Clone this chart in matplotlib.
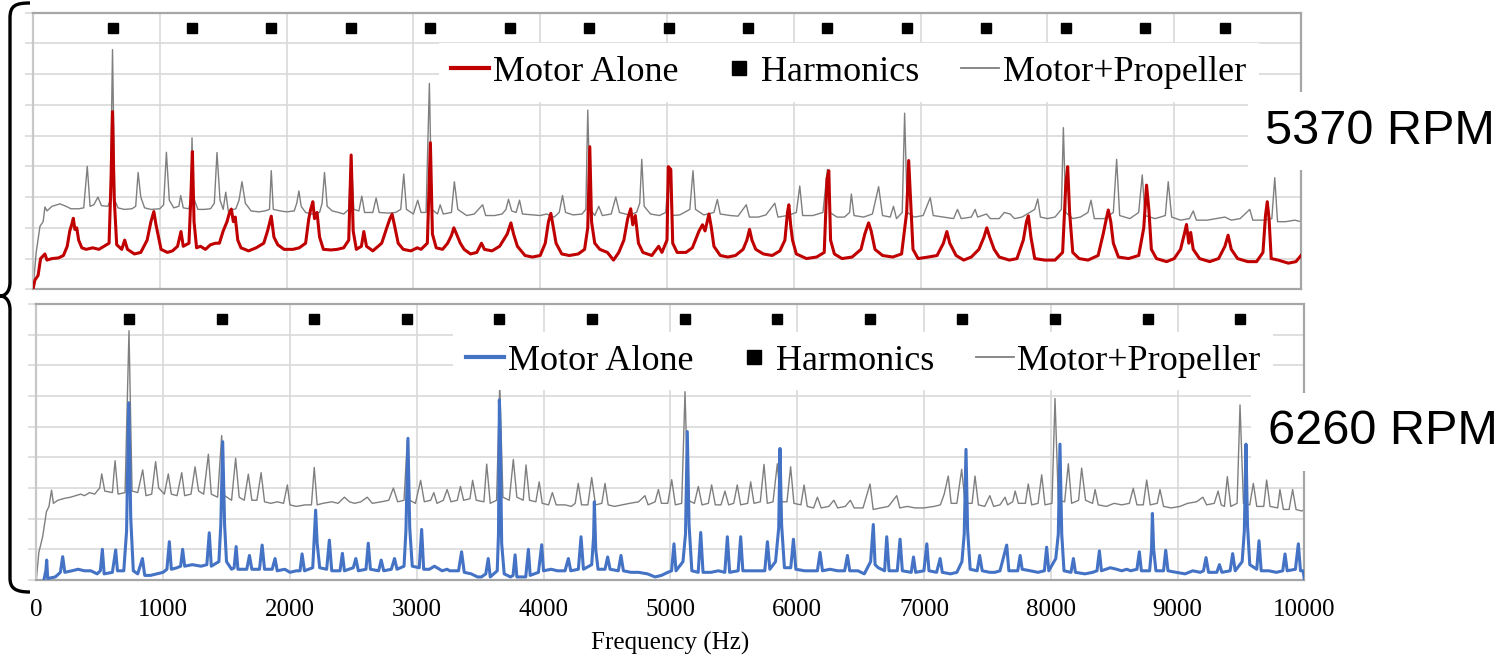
import matplotlib
matplotlib.use("Agg")
import matplotlib.pyplot as plt
from matplotlib.lines import Line2D
from matplotlib.path import Path
from matplotlib.patches import PathPatch
from matplotlib.font_manager import FontProperties

# ---------------- data ----------------
freq_ticks = [0, 1000, 2000, 3000, 4000, 5000, 6000, 7000, 8000, 9000, 10000]

harmonics_5370 = [627, 1253, 1880, 2506, 3133, 3759, 4386, 5012, 5639, 6265,
                  6892, 7518, 8145, 8771, 9398]
harmonics_6260 = [730, 1461, 2191, 2921, 3652, 4382, 5112, 5842, 6573, 7303,
                  8033, 8764, 9494]

# Motor alone, 5370 RPM  (frequency Hz, level)
motor_5370 = [
 (0,0.0),(15,0.3),(40,0.45),(60,1.0),(94,1.15),(110,0.95),(150,1.0),(200,1.02),(240,1.1),
 (270,1.4),(290,1.9),(305,2.1),(318,2.31),(330,1.95),(345,2.0),(360,1.6),(385,1.35),(420,1.3),
 (470,1.35),(520,1.3),(560,1.4),(600,1.5),(615,3.5),(627,5.78),(640,3.0),(660,1.45),(700,1.3),
 (723,1.6),(745,1.3),(800,1.15),(850,1.2),(900,1.6),(930,2.2),(953,2.53),(970,2.1),(990,1.7),
 (1010,1.3),(1060,1.2),(1100,1.25),(1140,1.4),(1167,1.88),(1185,1.4),(1230,1.5),(1245,3.0),
 (1257,4.48),(1270,2.2),(1290,1.35),(1320,1.4),(1360,1.3),(1400,1.45),(1440,1.5),(1470,1.5),
 (1500,1.9),(1530,2.2),(1550,2.5),(1564,2.61),(1580,2.2),(1595,2.35),(1615,1.6),(1640,1.35),
 (1700,1.25),(1760,1.35),(1820,1.5),(1850,1.9),(1879,2.38),(1900,1.7),(1930,1.45),(1980,1.3),
 (2050,1.3),(2100,1.35),(2150,1.5),(2175,2.3),(2190,2.6),(2207,2.85),(2220,2.3),(2240,2.5),
 (2260,1.7),(2290,1.3),(2350,1.28),(2400,1.3),(2450,1.35),(2490,1.6),(2509,4.37),(2525,1.9),
 (2550,1.3),(2590,1.4),(2609,1.88),(2630,1.4),(2680,1.25),(2750,1.5),(2790,2.0),(2815,2.3),
 (2832,2.44),(2850,2.1),(2880,1.5),(2920,1.3),(2980,1.25),(3030,1.35),(3060,1.3),(3110,1.5),
 (3134,4.77),(3150,1.8),(3180,1.35),(3230,1.3),(3270,1.5),(3300,1.75),(3319,2.0),(3340,1.8),
 (3370,1.5),(3400,1.3),(3450,1.15),(3500,1.2),(3537,1.5),(3560,1.3),(3620,1.25),(3680,1.4),
 (3740,1.8),(3769,2.16),(3790,1.8),(3820,1.4),(3880,1.1),(3938,1.05),(4000,1.1),(4040,1.5),
 (4065,2.2),(4084,2.47),(4100,2.1),(4125,1.5),(4170,1.15),(4230,1.1),(4300,1.15),(4350,1.3),
 (4375,2.0),(4391,4.64),(4405,2.2),(4430,1.5),(4470,1.3),(4530,1.2),(4578,0.95),(4620,1.2),
 (4660,1.6),(4690,2.3),(4714,2.62),(4730,2.1),(4750,2.4),(4775,1.5),(4810,1.2),(4880,1.1),
 (4934,1.4),(4960,1.2),(5000,1.6),(5010,3.99),(5030,3.9),(5045,1.5),(5080,1.2),(5150,1.2),
 (5200,1.35),(5253,1.9),(5280,2.1),(5300,1.9),(5331,2.45),(5350,2.0),(5370,1.4),(5420,1.1),
 (5480,1.05),(5540,1.1),(5600,1.3),(5630,1.6),(5651,1.95),(5670,1.6),(5700,1.3),(5760,1.15),
 (5830,1.1),(5890,1.25),(5930,1.6),(5950,2.5),(5961,2.75),(5975,2.1),(5990,1.6),(6020,1.15),
 (6100,1.0),(6180,1.05),(6240,1.2),(6262,3.6),(6276,3.86),(6290,1.6),(6320,1.15),(6380,1.0),
 (6460,1.05),(6530,1.3),(6560,1.8),(6590,2.16),(6610,1.9),(6640,1.3),(6700,1.1),(6780,1.05),
 (6850,1.15),(6890,2.5),(6906,4.19),(6920,3.0),(6940,1.3),(6980,1.0),(7060,1.05),(7130,1.1),
 (7180,1.5),(7207,1.88),(7230,1.5),(7280,1.1),(7340,0.95),(7400,1.05),(7460,1.3),(7500,1.7),
 (7522,2.0),(7545,1.7),(7580,1.3),(7620,1.05),(7700,0.95),(7760,1.0),(7810,1.6),(7835,2.2),
 (7850,2.39),(7870,1.7),(7900,1.0),(7980,0.95),(8060,0.95),(8120,1.2),(8145,3.4),(8160,3.99),
 (8175,2.5),(8200,1.2),(8250,1.0),(8320,0.95),(8400,1.1),(8440,1.8),(8465,2.3),(8480,2.58),
 (8500,2.2),(8520,1.5),(8560,1.05),(8640,1.0),(8720,1.1),(8760,2.0),(8782,3.39),(8800,2.6),
 (8820,1.3),(8860,1.0),(8940,0.9),(9000,1.0),(9050,1.3),(9080,1.8),(9097,2.11),(9115,1.5),
 (9130,1.85),(9150,1.3),(9200,1.0),(9280,0.9),(9350,1.0),(9400,1.4),(9425,1.76),(9450,1.3),
 (9500,1.0),(9580,0.9),(9650,0.9),(9700,1.2),(9720,2.4),(9734,2.85),(9748,2.3),(9765,1.0),
 (9820,0.95),(9900,0.85),(9960,0.9),(10000,1.1)]

# Motor + propeller, 5370 RPM
prop_5370 = [
 (0,0.0),(25,1.2),(55,2.05),(80,2.2),(94,2.68),(110,2.55),(150,2.7),(213,2.78),(260,2.7),
 (300,2.62),(360,2.62),(400,2.65),(428,4.0),(450,2.7),(480,2.75),(512,3.0),(540,2.72),(590,2.7),
 (610,2.9),(627,7.8),(645,2.9),(670,2.65),(720,2.6),(780,2.62),(810,2.7),(829,3.8),(850,3.0),
 (880,2.65),(930,2.6),(1000,2.62),(1030,2.75),(1052,4.46),(1075,2.9),(1110,2.65),(1150,2.7),
 (1165,3.05),(1185,2.65),(1230,2.62),(1245,3.0),(1254,4.93),(1265,3.0),(1300,2.6),(1350,2.6),
 (1400,2.62),(1430,2.8),(1451,4.45),(1475,2.9),(1500,2.6),(1520,3.16),(1540,2.55),(1600,2.62),
 (1625,2.9),(1648,3.5),(1675,2.8),(1720,2.55),(1780,2.52),(1830,2.55),(1865,2.6),(1879,3.86),
 (1895,2.6),(1950,2.55),(2000,2.52),(2060,2.55),(2080,2.8),(2097,3.2),(2115,2.7),(2150,2.5),
 (2200,2.45),(2260,2.5),(2280,2.8),(2299,3.8),(2320,2.7),(2360,2.55),(2410,2.5),(2450,2.45),
 (2490,2.6),(2509,4.38),(2530,2.6),(2570,2.55),(2593,3.03),(2615,2.5),(2680,2.5),(2706,2.97),
 (2730,2.5),(2800,2.48),(2860,2.5),(2900,2.6),(2924,3.75),(2945,2.6),(3000,2.45),(3034,2.9),
 (3060,2.5),(3100,2.5),(3126,6.7),(3145,2.6),(3190,2.45),(3211,2.75),(3235,2.45),(3300,2.5),
 (3323,3.5),(3350,2.6),(3420,2.4),(3480,2.45),(3546,2.75),(3570,2.4),(3640,2.4),(3700,2.45),
 (3730,2.6),(3750,2.93),(3775,2.55),(3810,2.5),(3837,2.9),(3860,2.45),(3950,2.42),(4000,2.4),
 (4050,2.45),(4110,2.35),(4150,2.5),(4176,3.05),(4200,2.5),(4260,2.42),(4330,2.45),(4360,2.6),
 (4375,5.83),(4395,2.6),(4430,2.4),(4462,2.7),(4490,2.4),(4560,2.45),(4596,3.0),(4625,2.5),
 (4700,2.42),(4760,2.5),(4785,2.8),(4801,4.23),(4820,2.7),(4870,2.45),(4940,2.4),(4990,2.5),
 (5015,3.9),(5040,2.4),(5100,2.42),(5180,2.6),(5205,3.86),(5225,2.6),(5290,2.42),(5370,2.5),
 (5397,2.92),(5420,2.45),(5500,2.4),(5560,2.38),(5625,2.75),(5650,2.35),(5720,2.35),(5780,2.42),
 (5850,2.8),(5875,2.35),(5950,2.4),(6020,2.5),(6047,3.36),(6070,2.4),(6150,2.4),(6230,2.5),
 (6265,3.9),(6285,2.5),(6340,2.35),(6400,2.35),(6440,2.5),(6454,3.1),(6475,2.4),(6550,2.35),
 (6620,2.45),(6669,3.34),(6700,2.4),(6760,2.35),(6786,2.7),(6810,2.3),(6855,2.5),(6874,5.73),
 (6895,2.5),(6950,2.35),(7020,2.4),(7076,2.98),(7100,2.4),(7180,2.35),(7260,2.3),(7291,2.6),
 (7320,2.3),(7400,2.35),(7430,2.6),(7450,2.35),(7520,2.45),(7550,2.3),(7620,2.3),(7660,2.5),
 (7706,2.45),(7740,2.3),(7800,2.35),(7900,2.6),(7924,2.94),(7945,2.35),(8000,2.3),(8060,2.35),
 (8110,2.6),(8126,5.26),(8145,2.5),(8200,2.3),(8260,2.35),(8320,2.5),(8344,2.9),(8370,2.3),
 (8450,2.3),(8520,2.5),(8546,4.23),(8570,2.4),(8650,2.3),(8720,2.5),(8748,3.72),(8770,2.4),
 (8850,2.3),(8930,2.4),(8953,3.5),(8980,2.35),(9050,2.25),(9120,2.3),(9150,2.55),(9175,2.25),
 (9260,2.25),(9330,2.3),(9400,2.35),(9450,2.25),(9520,2.3),(9596,2.6),(9620,2.25),(9700,2.25),
 (9770,2.3),(9793,3.63),(9815,2.2),(9880,2.2),(9950,2.25),(10000,2.2)]

# Motor alone, 6260 RPM
motor_6260 = [
 (60,0.0),(75,0.3),(82,0.65),(90,0.05),(150,0.1),(190,0.25),(208,0.76),(225,0.25),(280,0.3),
 (330,0.35),(380,0.3),(430,0.3),(480,0.2),(505,0.3),(521,1.0),(535,0.2),(600,0.25),(626,0.98),
 (640,0.3),(690,0.3),(712,1.6),(729,5.78),(745,2.0),(765,0.3),(800,0.2),(837,0.7),(855,0.15),
 (900,0.15),(950,0.2),(1000,0.25),(1030,0.35),(1049,1.25),(1065,0.35),(1110,0.4),(1138,0.45),
 (1154,1.0),(1170,0.45),(1230,0.5),(1300,0.45),(1345,0.5),(1364,1.54),(1380,0.45),(1440,0.6),
 (1455,1.8),(1470,4.51),(1485,1.8),(1500,0.6),(1540,0.35),(1560,0.4),(1576,1.09),(1590,0.35),
 (1660,0.35),(1681,0.8),(1700,0.35),(1760,0.35),(1781,1.14),(1800,0.35),(1860,0.35),(1883,0.7),
 (1900,0.3),(1960,0.35),(2000,0.25),(2050,0.3),(2080,0.3),(2096,0.85),(2115,0.3),(2180,0.4),
 (2195,1.6),(2203,2.28),(2215,1.2),(2235,0.4),(2290,0.35),(2311,1.3),(2330,0.3),(2395,0.3),
 (2414,0.87),(2430,0.3),(2500,0.4),(2520,0.7),(2540,0.3),(2600,0.35),(2618,1.2),(2635,0.35),
 (2700,0.3),(2720,0.65),(2740,0.3),(2800,0.35),(2825,0.7),(2845,0.35),(2900,0.45),(2915,1.6),
 (2931,4.62),(2945,1.7),(2965,0.45),(3020,0.4),(3039,1.65),(3055,0.35),(3100,0.35),(3140,0.45),
 (3160,0.4),(3200,0.3),(3240,0.35),(3260,0.3),(3330,0.3),(3354,0.92),(3375,0.25),(3430,0.2),
 (3480,0.1),(3510,0.1),(3545,0.2),(3564,0.7),(3580,0.1),(3635,0.3),(3645,1.5),(3652,5.87),
 (3660,4.5),(3670,1.2),(3690,0.2),(3740,0.1),(3760,0.15),(3776,0.82),(3790,0.1),(3860,0.1),
 (3881,1.0),(3895,0.15),(3960,0.25),(3986,1.15),(4000,0.3),(4060,0.35),(4110,0.3),(4170,0.3),
 (4196,0.7),(4215,0.3),(4275,0.35),(4296,1.41),(4315,0.35),(4380,0.5),(4395,1.4),(4401,2.55),
 (4412,1.0),(4430,0.35),(4485,0.35),(4506,0.75),(4525,0.35),(4590,0.3),(4611,0.8),(4630,0.3),
 (4690,0.25),(4750,0.25),(4820,0.2),(4880,0.1),(4930,0.15),(4980,0.25),(5010,0.3),(5029,1.18),
 (5045,0.3),(5100,0.6),(5120,1.5),(5134,4.84),(5148,1.8),(5170,0.3),(5220,0.25),(5240,1.55),
 (5258,0.25),(5320,0.25),(5380,0.3),(5430,0.25),(5450,1.41),(5468,0.25),(5535,0.3),(5555,1.41),
 (5572,0.3),(5640,0.3),(5700,0.3),(5745,0.3),(5766,1.25),(5785,0.35),(5830,0.6),(5855,1.7),
 (5865,4.29),(5878,1.8),(5900,0.4),(5950,0.4),(5971,1.33),(5990,0.35),(6060,0.3),(6120,0.3),
 (6160,0.3),(6181,0.9),(6200,0.3),(6260,0.35),(6320,0.3),(6375,0.3),(6397,0.8),(6415,0.3),
 (6480,0.3),(6530,0.2),(6580,0.6),(6601,1.81),(6615,0.5),(6640,0.4),(6690,0.3),(6707,1.41),
 (6725,0.3),(6790,0.3),(6812,1.33),(6830,0.3),(6900,0.25),(6918,0.75),(6935,0.25),(7000,0.3),
 (7023,1.18),(7040,0.3),(7100,0.25),(7128,0.7),(7145,0.25),(7210,0.2),(7260,0.25),(7300,0.6),
 (7318,1.5),(7332,4.26),(7345,1.6),(7365,0.35),(7420,0.3),(7440,0.8),(7460,0.3),(7520,0.25),
 (7560,0.25),(7600,0.3),(7653,1.14),(7670,0.3),(7740,0.3),(7759,0.8),(7775,0.35),(7840,0.3),
 (7900,0.25),(7950,0.3),(7968,1.07),(7985,0.3),(8040,0.7),(8060,1.5),(8073,4.43),(8087,1.5),
 (8105,0.3),(8160,0.25),(8179,0.7),(8195,0.25),(8270,0.2),(8330,0.25),(8365,0.3),(8384,0.95),
 (8400,0.3),(8470,0.4),(8520,0.35),(8560,0.3),(8600,0.35),(8630,0.3),(8680,0.35),(8699,0.92),
 (8715,0.3),(8780,0.3),(8795,1.0),(8802,2.17),(8812,1.0),(8830,0.3),(8890,0.3),(8907,0.97),
 (8925,0.3),(8990,0.25),(9060,0.2),(9120,0.3),(9180,0.25),(9205,0.3),(9225,0.73),(9245,0.25),
 (9310,0.25),(9331,0.5),(9350,0.25),(9415,0.3),(9435,0.86),(9455,0.3),(9510,0.6),(9527,1.6),
 (9540,4.43),(9552,1.8),(9570,0.5),(9625,0.35),(9643,1.28),(9660,0.3),(9720,0.3),(9780,0.25),
 (9830,0.3),(9848,0.85),(9865,0.3),(9930,0.35),(9953,1.18),(9970,0.3),(9990,0.3),(10000,0.05)]

# Motor + propeller, 6260 RPM
prop_6260 = [
 (0,0.0),(20,0.9),(50,1.41),(80,2.23),(100,2.4),(120,2.93),(135,2.5),(170,2.6),(220,2.66),
 (270,2.7),(310,2.75),(350,2.8),(380,2.75),(420,2.85),(460,2.8),(500,3.0),(516,3.46),(540,2.9),
 (600,2.85),(621,3.89),(645,2.8),(700,2.85),(731,8.13),(755,2.9),(800,2.85),(839,3.59),
 (865,2.75),(910,2.8),(941,3.86),(965,3.0),(1010,2.8),(1041,3.46),(1065,2.8),(1110,2.75),
 (1147,3.5),(1170,2.75),(1220,2.8),(1252,3.69),(1280,2.9),(1320,2.8),(1357,4.1),(1380,2.8),
 (1430,2.7),(1462,4.71),(1485,2.75),(1540,2.6),(1572,3.97),(1600,2.7),(1640,2.6),(1672,3.45),
 (1700,2.6),(1740,2.6),(1773,3.5),(1800,2.55),(1850,2.5),(1900,2.55),(1950,2.5),(1980,3.1),
 (2000,2.45),(2050,2.4),(2120,2.45),(2170,2.45),(2192,3.67),(2215,2.45),(2260,2.5),(2330,2.55),
 (2380,2.5),(2430,2.7),(2470,2.55),(2510,2.5),(2560,2.55),(2610,2.7),(2650,2.5),(2720,2.55),
 (2780,2.6),(2816,3.0),(2850,2.55),(2900,2.6),(2926,4.55),(2945,2.6),(2990,2.5),(3031,3.25),
 (3060,2.55),(3110,2.6),(3135,2.85),(3160,2.5),(3210,2.6),(3240,2.95),(3270,2.55),(3320,2.6),
 (3345,3.05),(3370,2.6),(3420,2.65),(3441,3.25),(3470,2.6),(3530,2.55),(3552,3.78),(3580,2.5),
 (3630,2.6),(3655,6.4),(3680,2.7),(3730,2.6),(3762,3.93),(3790,2.7),(3840,2.6),(3862,3.75),
 (3890,2.6),(3940,2.55),(3966,3.2),(3990,2.5),(4040,2.45),(4070,2.85),(4100,2.45),(4170,2.45),
 (4220,2.4),(4250,2.5),(4274,3.15),(4300,2.45),(4350,2.45),(4380,3.34),(4410,2.45),(4460,2.5),
 (4485,3.15),(4510,2.45),(4560,2.4),(4620,2.45),(4680,2.5),(4750,2.55),(4800,2.75),(4825,2.45),
 (4880,2.55),(4906,2.95),(4930,2.5),(4980,2.5),(5011,3.27),(5040,2.45),(5090,2.5),(5116,6.14),
 (5140,2.6),(5190,2.5),(5221,3.05),(5250,2.45),(5300,2.5),(5326,3.1),(5355,2.45),(5400,2.45),
 (5431,2.9),(5460,2.45),(5500,2.5),(5528,3.1),(5555,2.45),(5610,2.5),(5634,3.2),(5660,2.5),
 (5710,2.55),(5739,3.77),(5765,2.5),(5810,2.55),(5844,3.79),(5870,2.55),(5920,2.55),(5949,3.69),
 (5975,2.5),(6030,2.45),(6055,3.1),(6080,2.4),(6130,2.35),(6160,2.7),(6190,2.35),(6250,2.4),
 (6290,2.6),(6320,2.35),(6380,2.4),(6420,2.6),(6450,2.35),(6520,2.35),(6575,3.13),(6600,2.3),
 (6660,2.35),(6720,2.4),(6786,2.75),(6810,2.35),(6870,2.4),(6930,2.35),(7000,2.35),(7080,2.4),
 (7130,2.45),(7160,2.8),(7192,3.39),(7215,2.5),(7260,2.5),(7298,3.61),(7325,2.5),(7380,2.5),
 (7403,3.39),(7430,2.45),(7480,2.4),(7520,2.75),(7550,2.4),(7600,2.45),(7640,2.7),(7660,2.45),
 (7700,2.55),(7720,2.9),(7745,2.5),(7800,2.5),(7823,3.13),(7850,2.45),(7900,2.5),(7929,3.43),
 (7955,2.45),(8010,2.5),(8034,5.92),(8060,2.6),(8110,2.55),(8139,3.79),(8165,2.5),(8220,2.6),
 (8244,3.65),(8275,2.6),(8330,2.5),(8350,2.95),(8375,2.45),(8440,2.4),(8500,2.5),(8560,2.45),
 (8620,2.5),(8651,2.99),(8680,2.45),(8730,2.45),(8757,3.26),(8785,2.45),(8840,2.5),(8862,2.95),
 (8890,2.4),(8950,2.35),(9020,2.4),(9080,2.5),(9150,2.55),(9200,2.7),(9230,2.45),(9290,2.5),
 (9320,2.9),(9345,2.45),(9370,2.4),(9393,3.37),(9420,2.4),(9470,2.5),(9493,5.71),(9520,2.5),
 (9570,2.45),(9598,3.15),(9625,2.4),(9680,2.4),(9703,3.26),(9730,2.4),(9790,2.35),(9808,2.95),
 (9835,2.3),(9880,2.3),(9908,2.95),(9935,2.3),(9980,2.25),(10000,2.3)]

labels = ["Motor Alone", "Harmonics", "Motor+Propeller"]
rpm_labels = ["5370 RPM", "6260 RPM"]
xlabel = "Frequency (Hz)"

# ---------------- style ----------------
RED = "#C00000"
BLUE = "#4472C4"
GRAY = "#7F7F7F"
GRID = "#D9D9D9"
FRAME = "#A6A6A6"
SERIF = "Liberation Serif"
SANS = "Liberation Sans"

W, H = 1511, 660
fig = plt.figure(figsize=(W / 100, H / 100), dpi=100)

def fx(px):
    return px / W

def fy(py):
    return 1 - py / H

ax1 = fig.add_axes([fx(33), fy(289.3), fx(1301) - fx(33), fy(12.7) - fy(289.3)])
ax2 = fig.add_axes([fx(36.3), fy(580), fx(1304.3) - fx(36.3), fy(304) - fy(580)])


def style(ax, show_labels):
    ax.set_xlim(0, 10000)
    ax.set_ylim(0, 9)
    ax.set_xticks(freq_ticks)
    ax.set_yticks(range(0, 10))
    ax.grid(True, color=GRID, lw=1.2, zorder=0)
    ax.set_axisbelow(True)
    for s in ax.spines.values():
        s.set_color(FRAME)
        s.set_linewidth(1.6)
    ax.spines["left"].set_color("#C8C8C8")
    ax.tick_params(axis="y", length=6, width=1.2, color=GRID, labelleft=False)
    if show_labels:
        ax.tick_params(axis="x", length=0, pad=14, labelsize=18)
        for t in ax.get_xticklabels():
            t.set_fontfamily(SERIF)
    else:
        ax.tick_params(axis="x", length=0, labelbottom=False)


def draw(ax, motor, prop, harm, color):
    mf, mv = zip(*motor)
    pf, pv = zip(*prop)
    ax.plot(pf, pv, color=GRAY, lw=1.0, zorder=2)
    ax.plot(mf, mv, color=color, lw=2.2, zorder=3)
    ax.plot(harm, [8.5] * len(harm), ls="none", marker="s", ms=6.5,
            color="black", zorder=4)


style(ax1, False)
style(ax2, True)
draw(ax1, motor_5370, prop_5370, harmonics_5370, RED)
draw(ax2, motor_6260, prop_6260, harmonics_6260, BLUE)

prop = FontProperties(family=SERIF, size=26)
for ax, color, anchor in ((ax1, RED, (0.320, 0.89)), (ax2, BLUE, (0.329, 0.90))):
    handles = [Line2D([], [], color=color, lw=3),
               Line2D([], [], ls="none", marker="s", ms=10, color="black"),
               Line2D([], [], color=GRAY, lw=1.3)]
    leg = ax.legend(handles, labels, ncol=3, loc="upper left", bbox_to_anchor=anchor,
                    prop=prop, frameon=True, fancybox=False, framealpha=1,
                    facecolor="white", edgecolor="none", handlelength=1.05,
                    handletextpad=0.1, columnspacing=1.15, borderpad=0.35,
                    borderaxespad=0)
    leg.set_zorder(10)

fig.text(0.4434, fy(643), xlabel, ha="center", va="center", fontsize=18, family=SERIF)

fig.text(fx(1265), fy(131), rpm_labels[0], ha="left", va="center", fontsize=35,
         family=SANS, bbox=dict(fc="white", ec="none", pad=12))
fig.text(fx(1268), fy(432), rpm_labels[1], ha="left", va="center", fontsize=35,
         family=SANS, bbox=dict(fc="white", ec="none", pad=12))

# left curly brace
pts = [(30, 3), (15, 3), (10, 6), (10, 18), (10, 282), (10, 292), (5, 296), (0, 296),
       (5, 296), (10, 300), (10, 310), (10, 578), (10, 588), (15, 592), (30, 592)]
codes = [Path.MOVETO, Path.CURVE4, Path.CURVE4, Path.CURVE4, Path.LINETO,
         Path.CURVE4, Path.CURVE4, Path.CURVE4, Path.CURVE4, Path.CURVE4, Path.CURVE4,
         Path.LINETO, Path.CURVE4, Path.CURVE4, Path.CURVE4]
brace = Path([(fx(x), fy(y)) for x, y in pts], codes)
fig.patches.append(PathPatch(brace, transform=fig.transFigure, fill=False,
                             lw=2.4, ec="black"))

fig.savefig("out.png", dpi=100)
